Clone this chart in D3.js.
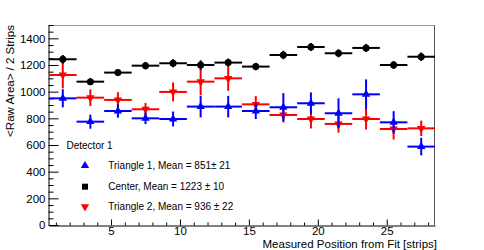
<!DOCTYPE html>
<html>
<head>
<meta charset="utf-8">
<script src="https://cdn.jsdelivr.net/npm/d3@7"></script>
<style>
  html, body { margin: 0; padding: 0; background: #fff; }
  svg { display: block; font-family: "Liberation Sans", Arial, sans-serif; }
</style>
</head>
<body>
<svg id="chart" width="484" height="250"></svg>
<script>
// bin centres (strips), each bin is 2 strips wide
const bin_centers = [1.5, 3.5, 5.5, 7.5, 9.5, 11.5, 13.5, 15.5, 17.5, 19.5, 21.5, 23.5, 25.5, 27.5];
const bin_half_width = 1;

// <Raw Area> per bin
const triangle1_values = [950, 775, 855, 800, 795, 888, 888, 855, 883, 913, 838, 980, 770, 588];
const triangle1_errors = [68, 53, 50, 43, 56, 81, 81, 60, 106, 81, 112, 112, 84, 66];
const center_values = [1243, 1075, 1143, 1195, 1213, 1200, 1218, 1188, 1275, 1335, 1288, 1328, 1200, 1262];
const center_errors = [32, 25, 26, 28, 30, 35, 30, 28, 32, 30, 30, 30, 30, 32];
const triangle2_values = [1125, 955, 938, 868, 998, 1075, 1100, 905, 825, 795, 758, 795, 720, 725];
const triangle2_errors = [100, 62, 58, 47, 71, 101, 94, 62, 56, 71, 66, 79, 79, 58];

const legend_title = 'Detector 1';
const legend_labels = [
  'Triangle 1, Mean = 851\u00b1 21',
  'Center, Mean = 1223 \u00b1 10',
  'Triangle 2, Mean = 936 \u00b1 22'
];
const y_ticks = [0, 200, 400, 600, 800, 1000, 1200, 1400];
const x_ticks = [5, 10, 15, 20, 25];

const width = 484;
const height = 250;
const frame = { left: 49, right: 435, top: 25, bottom: 225 };
const font = '"Liberation Sans", Arial, sans-serif';

const svg = d3.select('#chart');
svg.append('rect').attr('width', width).attr('height', height).attr('fill', '#fff');

const x = d3.scaleLinear().domain([0.5, 28.5]).range([frame.left, frame.right]);
const y = d3.scaleLinear().domain([0, 1500]).range([frame.bottom, frame.top]);

// frame (top / right edges look greyish in the reference)
svg.append('line')
  .attr('x1', frame.left).attr('x2', frame.right)
  .attr('y1', frame.top + 0.5).attr('y2', frame.top + 0.5)
  .attr('stroke', '#999').attr('stroke-width', 1);
svg.append('line')
  .attr('x1', frame.right - 0.5).attr('x2', frame.right - 0.5)
  .attr('y1', frame.top).attr('y2', frame.bottom)
  .attr('stroke', '#555').attr('stroke-width', 1);

// y axis: major + minor ticks pointing inward
const y_minor = d3.range(0, 1501, 50).filter(v => v % 200 !== 0);
svg.append('g')
  .attr('transform', `translate(${frame.left - 0.5},0)`)
  .call(d3.axisLeft(y).tickValues(y_minor).tickSize(-5).tickFormat(''))
  .call(g => g.select('.domain').remove());
svg.append('g')
  .attr('class', 'y-axis')
  .attr('transform', `translate(${frame.left - 0.5},0)`)
  .call(d3.axisLeft(y).tickValues(y_ticks).tickSize(-10).tickPadding(3).tickSizeOuter(0).tickFormat(d3.format('d')))
  .call(g => g.selectAll('text').attr('font-size', 11.5).attr('fill', '#000').attr('font-family', font));

// x axis
const x_minor = d3.range(1, 29).filter(v => v % 5 !== 0);
svg.append('g')
  .attr('transform', `translate(0,${frame.bottom + 0.5})`)
  .call(d3.axisBottom(x).tickValues(x_minor).tickSize(-3).tickFormat(''))
  .call(g => g.select('.domain').remove());
svg.append('g')
  .attr('class', 'x-axis')
  .attr('transform', `translate(0,${frame.bottom + 0.5})`)
  .call(d3.axisBottom(x).tickValues(x_ticks).tickSize(-6).tickPadding(1).tickSizeOuter(0).tickFormat(d3.format('d')))
  .call(g => g.selectAll('text').attr('font-size', 11.5).attr('fill', '#000').attr('font-family', font));

// axis titles
svg.append('text')
  .attr('transform', `translate(13.5,${frame.top}) rotate(-90)`)
  .attr('text-anchor', 'end')
  .attr('font-size', 11.5)
  .text('<Raw Area> / 2 Strips');
svg.append('text')
  .attr('x', 437).attr('y', 247.5)
  .attr('text-anchor', 'end')
  .attr('font-size', 11.5)
  .text('Measured Position from Fit [strips]');

// series
const series = [
  { name: 'triangle2', values: triangle2_values, errors: triangle2_errors, color: '#ff0000', marker: 'down' },
  { name: 'triangle1', values: triangle1_values, errors: triangle1_errors, color: '#0000ff', marker: 'up' },
  { name: 'center', values: center_values, errors: center_errors, color: '#000000', marker: 'circle' }
];

const tri_up = d3.symbol().type(d3.symbolTriangle).size(30);

function draw_marker(sel, kind, color) {
  if (kind === 'circle') {
    sel.append('circle').attr('r', 3.5).attr('fill', color);
  } else if (kind === 'square') {
    sel.append('rect').attr('x', -3).attr('y', -3).attr('width', 6).attr('height', 6).attr('fill', color);
  } else {
    sel.append('path').attr('d', tri_up())
      .attr('transform', kind === 'down' ? 'rotate(180)' : null)
      .attr('fill', color);
  }
}

series.forEach(s => {
  const pts = bin_centers.map((c, i) => ({ x: c, v: s.values[i], e: s.errors[i] }));
  const g = svg.append('g').attr('class', 'series-' + s.name);
  g.selectAll('line.h')
    .data(pts).enter().append('line')
    .attr('class', 'h')
    .attr('x1', d => x(d.x - bin_half_width)).attr('x2', d => x(d.x + bin_half_width))
    .attr('y1', d => y(d.v)).attr('y2', d => y(d.v))
    .attr('stroke', s.color).attr('stroke-width', 2);
  g.selectAll('line.v')
    .data(pts).enter().append('line')
    .attr('class', 'v')
    .attr('x1', d => x(d.x)).attr('x2', d => x(d.x))
    .attr('y1', d => y(d.v - d.e)).attr('y2', d => y(d.v + d.e))
    .attr('stroke', s.color).attr('stroke-width', 2);
  g.selectAll('g.m')
    .data(pts).enter().append('g')
    .attr('class', 'm')
    .attr('transform', d => `translate(${x(d.x)},${y(d.v)})`)
    .each(function () { draw_marker(d3.select(this), s.marker, s.color); });
});

// legend
const legend = svg.append('g').attr('font-size', 10);
legend.append('text').attr('x', 66.5).attr('y', 149).text(legend_title);
const legend_rows = [
  { label: legend_labels[0], color: '#0000ff', marker: 'up', cy: 165.7 },
  { label: legend_labels[1], color: '#000000', marker: 'square', cy: 186.7 },
  { label: legend_labels[2], color: '#ff0000', marker: 'down', cy: 206.7 }
];
legend_rows.forEach(r => {
  const m = legend.append('g').attr('transform', `translate(85,${r.cy})`);
  draw_marker(m, r.marker, r.color);
  legend.append('text').attr('x', 108.3).attr('y', r.cy + 3.5).text(r.label);
});
</script>
</body>
</html>
